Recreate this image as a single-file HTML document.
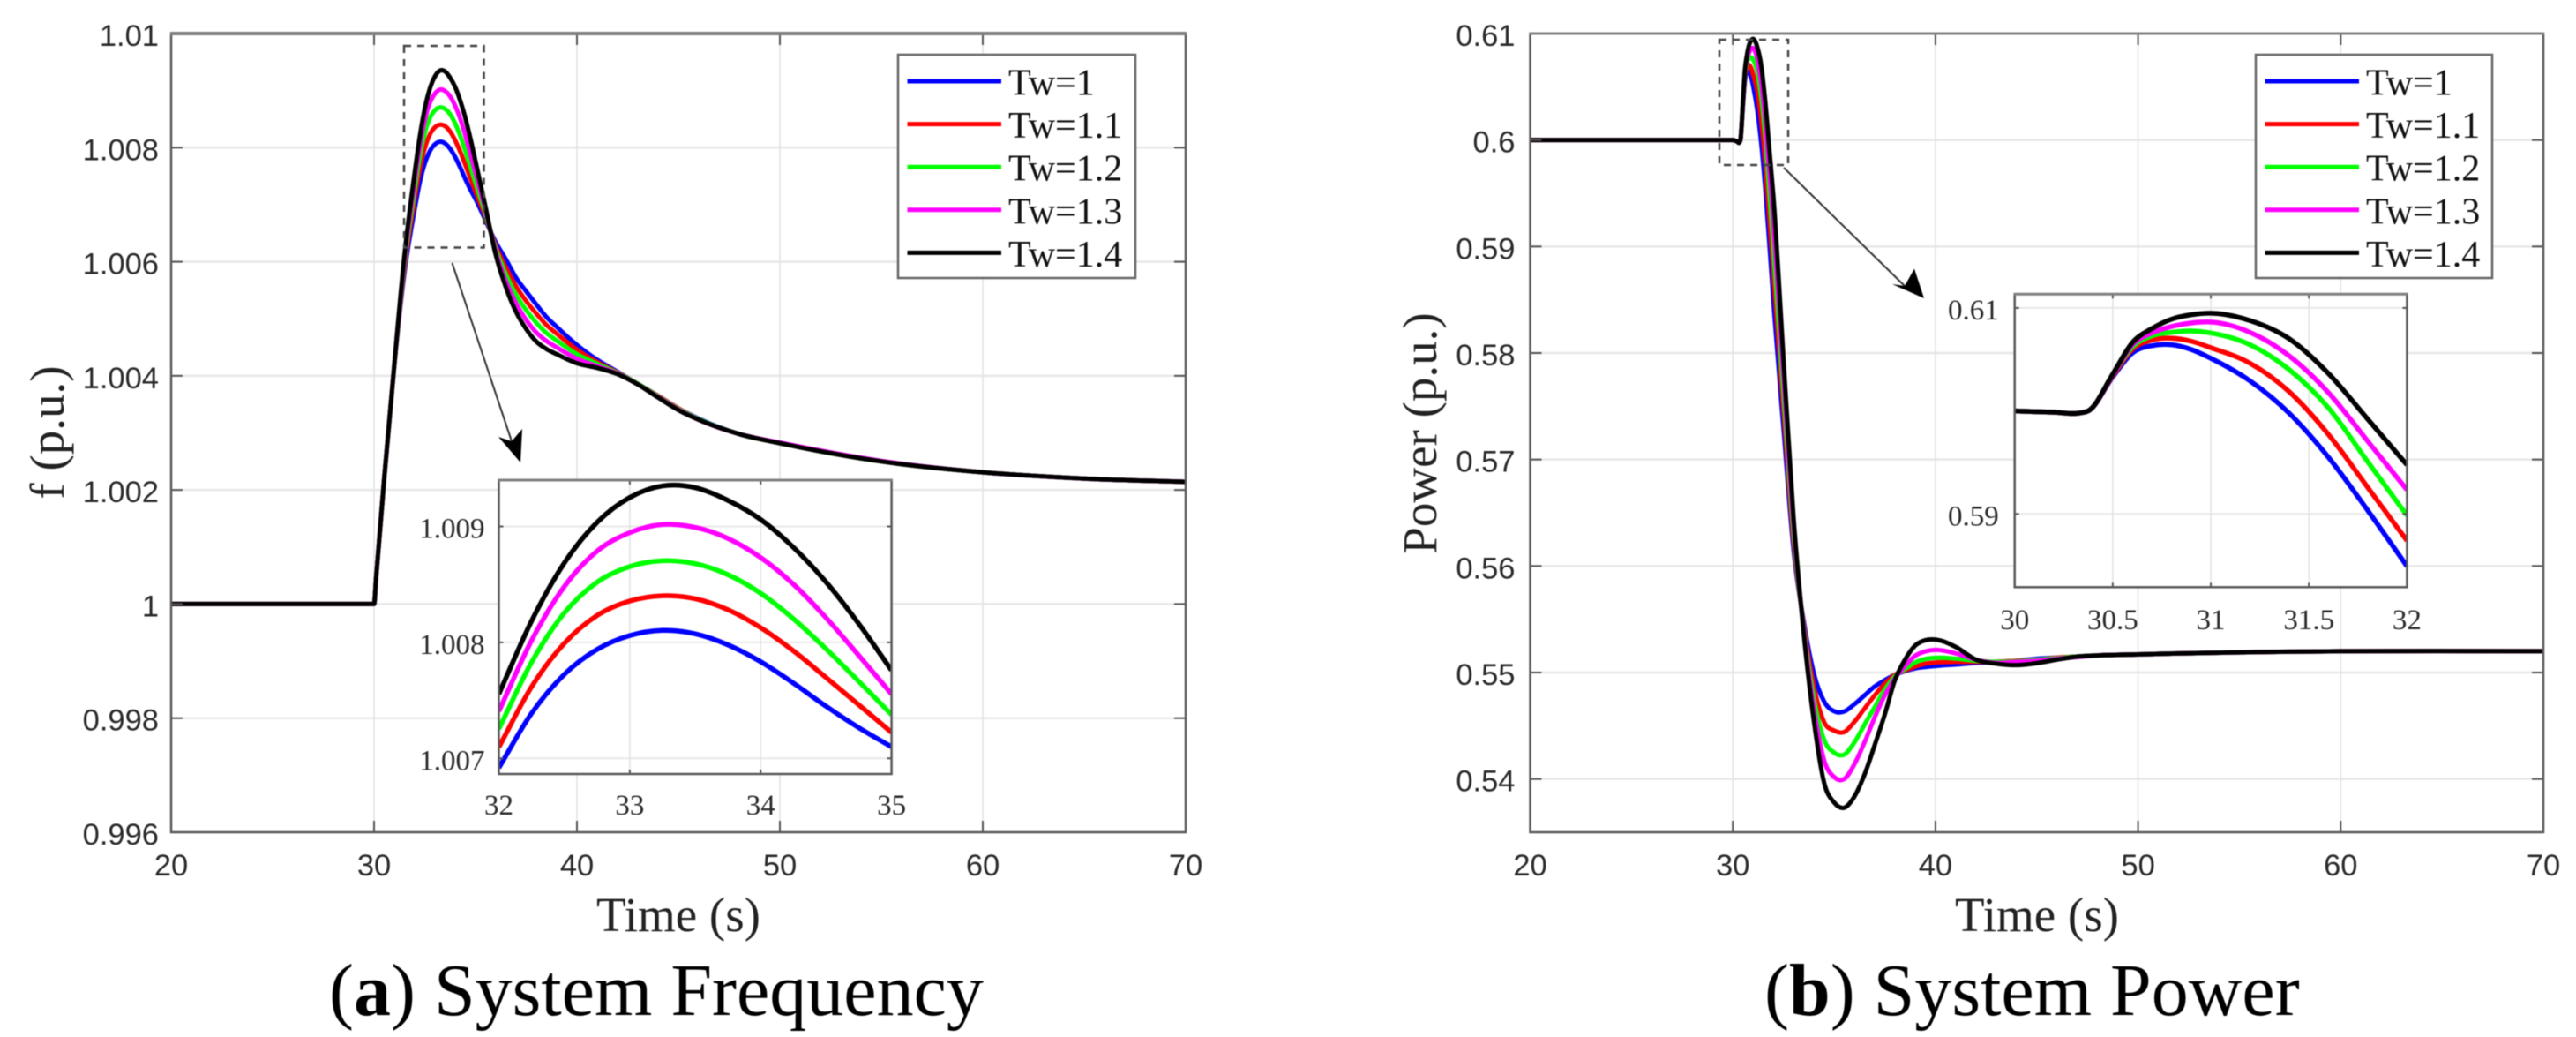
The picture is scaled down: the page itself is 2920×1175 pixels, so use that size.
<!DOCTYPE html>
<html lang="en">
<head>
<meta charset="utf-8">
<title>System Frequency and System Power</title>
<style>
html,body{margin:0;padding:0;background:#fff;width:2920px;height:1175px;overflow:hidden}
svg{display:block;filter:blur(0.5px)}
</style>
</head>
<body>
<svg id="figure" xmlns="http://www.w3.org/2000/svg" width="2920" height="1175" viewBox="0 0 2920 1175">
<rect x="0" y="0" width="2920" height="1175" fill="#fff"/>
</svg>
<script>
const seriesNames = ['Tw=1', 'Tw=1.1', 'Tw=1.2', 'Tw=1.3', 'Tw=1.4'];

const freqXTicks = ['20', '30', '40', '50', '60', '70'];
const freqYTicks = ['1.01', '1.008', '1.006', '1.004', '1.002', '1', '0.998', '0.996'];
const freqInsetXTicks = ['32', '33', '34', '35'];
const freqInsetYTicks = ['1.009', '1.008', '1.007'];

const freqTime = [20,30,30.1,30.5,31,31.5,32,32.25,32.5,32.75,33,33.25,33.5,33.75,34,34.25,34.5,34.75,35,35.5,36,36.5,37,37.5,38,38.5,39,40,41,42,43,44,45,46,48,50,55,60,65,70];
const freqBlue = [1,1,1.00045,1.0022,1.0042,1.00582,1.006919,1.007389,1.007724,1.007939,1.008059,1.008104,1.008074,1.007979,1.007834,1.007649,1.007449,1.007264,1.007099,1.00672,1.00634,1.00604,1.00572,1.00548,1.00525,1.00503,1.00486,1.00454,1.00428,1.00407,1.00386,1.00365,1.00343,1.00325,1.00298,1.00282,1.0025,1.00231,1.0022,1.00214];
const freqRed = [1,1,1.00045,1.0022,1.0042,1.0059,1.007097,1.007617,1.007992,1.008232,1.008357,1.008402,1.008377,1.008282,1.008127,1.007927,1.007697,1.007462,1.007224,1.00678,1.00628,1.0059,1.00557,1.00531,1.00509,1.00489,1.00474,1.00446,1.00424,1.00406,1.00386,1.00365,1.00343,1.00324,1.00298,1.00282,1.0025,1.00231,1.0022,1.00214];
const freqGreen = [1,1,1.00045,1.0022,1.0042,1.00598,1.007254,1.007829,1.008254,1.008519,1.008654,1.008704,1.008679,1.008584,1.008424,1.008204,1.007944,1.007664,1.007377,1.00683,1.00623,1.00578,1.00542,1.00515,1.00493,1.00475,1.00462,1.00438,1.00421,1.00405,1.00386,1.00364,1.00342,1.00324,1.00298,1.00282,1.0025,1.00231,1.0022,1.00214];
const freqMagenta = [1,1,1.00045,1.0022,1.0042,1.00605,1.007407,1.008017,1.008482,1.008787,1.008947,1.009017,1.008992,1.008897,1.008732,1.008502,1.008212,1.007887,1.007555,1.00689,1.00618,1.00566,1.00527,1.00498,1.00476,1.00461,1.0045,1.0043,1.00417,1.00404,1.00385,1.00363,1.00341,1.00323,1.00298,1.00283,1.00251,1.00231,1.0022,1.00214];
const freqBlack = [1,1,1.00045,1.0022,1.0042,1.00612,1.007555,1.008185,1.008685,1.009035,1.00925,1.00935,1.009335,1.009225,1.00906,1.00882,1.00852,1.00816,1.00776,1.00695,1.00612,1.00555,1.00512,1.00482,1.0046,1.00447,1.00438,1.00422,1.00414,1.00403,1.00385,1.00362,1.0034,1.00323,1.00298,1.00282,1.0025,1.00231,1.0022,1.00214];

const powerXTicks = ['20', '30', '40', '50', '60', '70'];
const powerYTicks = ['0.61', '0.6', '0.59', '0.58', '0.57', '0.56', '0.55', '0.54'];
const powerInsetXTicks = ['30', '30.5', '31', '31.5', '32'];
const powerInsetYTicks = ['0.61', '0.59'];

const powerTime = [20,30,30.2,30.33,30.38,30.5,30.6,30.7,30.8,30.9,31,31.2,31.4,31.6,31.8,32,32.5,33,33.5,34,34.5,35,35.5,36,36.5,37,37.5,38,38.5,39,39.5,40,41,42,43,44,45,46,47,48,50,55,60,70];
const powerBlue = [0.6,0.6,0.59988,0.5998,0.60006,0.6033,0.60563,0.60634,0.60643,0.60597,0.60511,0.60291,0.59977,0.59549,0.59034,0.58492,0.573,0.5615,0.5548,0.54992,0.5473,0.54636,0.54634,0.54702,0.54785,0.54868,0.54928,0.54978,0.55014,0.55039,0.55052,0.55061,0.55075,0.5509,0.551,0.5511,0.5513,0.5514,0.5515,0.5516,0.5517,0.5519,0.552,0.552];
const powerRed = [0.6,0.6,0.59988,0.5998,0.60006,0.6034,0.60597,0.60689,0.60706,0.60677,0.60614,0.60463,0.60186,0.59771,0.59257,0.5874,0.5746,0.5622,0.5545,0.5487,0.54537,0.54455,0.54441,0.54537,0.54661,0.54785,0.54895,0.54978,0.55019,0.55055,0.55083,0.55094,0.551,0.551,0.551,0.5511,0.5512,0.5514,0.5515,0.5516,0.5517,0.5519,0.552,0.552];
const powerGreen = [0.6,0.6,0.59988,0.5998,0.60006,0.6035,0.6062,0.60729,0.60763,0.60777,0.60757,0.60643,0.604,0.60029,0.59506,0.58986,0.5762,0.563,0.5542,0.5476,0.54372,0.54248,0.54229,0.54344,0.5451,0.54675,0.5484,0.54964,0.55033,0.55094,0.55127,0.55138,0.5513,0.5511,0.551,0.55105,0.5512,0.55135,0.5515,0.5516,0.5517,0.5519,0.552,0.552];
const powerMagenta = [0.6,0.6,0.59988,0.5998,0.60006,0.6035,0.60643,0.60757,0.6082,0.60854,0.60863,0.60763,0.60534,0.60177,0.59706,0.59234,0.5779,0.5638,0.554,0.5466,0.54179,0.54019,0.54,0.54138,0.54344,0.54578,0.54785,0.54945,0.55061,0.55157,0.55198,0.55212,0.5518,0.5512,0.5509,0.551,0.5511,0.5513,0.55145,0.5516,0.5517,0.5519,0.552,0.552];
const powerBlack = [0.6,0.6,0.59988,0.5998,0.60006,0.60357,0.60663,0.608,0.60891,0.60934,0.60949,0.60877,0.607,0.60363,0.5992,0.59477,0.5795,0.5645,0.5537,0.5455,0.5397,0.5378,0.5373,0.53835,0.54041,0.54317,0.54606,0.54928,0.55121,0.55253,0.55303,0.55309,0.5524,0.55121,0.55083,0.55069,0.55088,0.55121,0.55149,0.5516,0.5517,0.5519,0.552,0.552];

const NS = 'http://www.w3.org/2000/svg';
const figure = document.getElementById('figure');
const SERIF = '"Liberation Serif", serif';
const SANS = '"Liberation Sans", sans-serif';
const palette = ['#0000ff', '#ff0000', '#00ff00', '#ff00ff', '#000000'];
let clipCounter = 0;

function make(parent, tag, attrs) {
  const el = document.createElementNS(NS, tag);
  for (const k in attrs) el.setAttribute(k, attrs[k]);
  parent.appendChild(el);
  return el;
}

function linearScale(d0, d1, r0, r1) {
  return v => r0 + (v - d0) / (d1 - d0) * (r1 - r0);
}

function smoothPath(xs, ys) {
  const n = xs.length;
  const sec = [];
  for (let i = 0; i < n - 1; i++) sec.push((ys[i + 1] - ys[i]) / ((xs[i + 1] - xs[i]) || 1e-6));
  const tan = [sec[0]];
  for (let i = 1; i < n - 1; i++) {
    const a = Math.abs(sec[i - 1]);
    const b = Math.abs(sec[i]);
    if (Math.min(a, b) < 0.02 && Math.max(a, b) > 0.3) {
      tan.push(0);
    } else {
      const h0 = xs[i] - xs[i - 1];
      const h1 = xs[i + 1] - xs[i];
      tan.push((sec[i - 1] * h1 + sec[i] * h0) / (h0 + h1));
    }
  }
  tan.push(sec[n - 2]);
  let d = 'M' + xs[0].toFixed(2) + ' ' + ys[0].toFixed(2);
  for (let i = 0; i < n - 1; i++) {
    const h = (xs[i + 1] - xs[i]) / 3;
    d += 'C' + (xs[i] + h).toFixed(2) + ' ' + (ys[i] + h * tan[i]).toFixed(2) + ' ' +
      (xs[i + 1] - h).toFixed(2) + ' ' + (ys[i + 1] - h * tan[i + 1]).toFixed(2) + ' ' +
      xs[i + 1].toFixed(2) + ' ' + ys[i + 1].toFixed(2);
  }
  return d;
}

function visibleIndices(time, domain) {
  const idx = [];
  time.forEach((t, i) => {
    const next = i < time.length - 1 ? time[i + 1] : Infinity;
    const prev = i > 0 ? time[i - 1] : -Infinity;
    if ((t >= domain[0] && t <= domain[1]) || (next > domain[0] && next <= domain[1]) || (prev >= domain[0] && prev < domain[1])) idx.push(i);
  });
  return idx;
}

function drawPanel(cfg) {
  const g = make(figure, 'g', {});
  
  

  const xOf = linearScale(cfg.xDomain[0], cfg.xDomain[1], cfg.left, cfg.right);
  const yOf = linearScale(cfg.yDomain[0], cfg.yDomain[1], cfg.bottom, cfg.top);

  const plotBg = make(g, 'rect', {x: cfg.left, y: cfg.top, width: cfg.right - cfg.left, height: cfg.bottom - cfg.top, fill: '#fff'});
  
  

  cfg.yTicks.forEach(label => {
    const py = yOf(parseFloat(label));
    const grid = make(g, 'line', {x1: cfg.left, x2: cfg.right, y1: py, y2: py, stroke: '#e8e8e8', 'stroke-width': cfg.gridY});
    
    
  });
  cfg.xTicks.forEach(label => {
    const px = xOf(parseFloat(label));
    const grid = make(g, 'line', {x1: px, x2: px, y1: cfg.top, y2: cfg.bottom, stroke: '#e2e2e2', 'stroke-width': cfg.gridX});
    
    
  });

  clipCounter += 1;
  const clipId = 'clip' + clipCounter;
  const clip = make(g, 'clipPath', {id: clipId});
  make(clip, 'rect', {x: cfg.left, y: cfg.top, width: cfg.right - cfg.left, height: cfg.bottom - cfg.top});

  const lines = make(g, 'g', {'clip-path': 'url(#' + clipId + ')'});
  
  
  const shown = visibleIndices(cfg.time, cfg.xDomain);
  cfg.series.forEach((vals, i) => {
    const xs = shown.map(k => xOf(cfg.time[k]));
    const ys = shown.map(k => yOf(vals[k]));
    const line = make(lines, 'path', {d: smoothPath(xs, ys), fill: 'none', stroke: palette[i], 'stroke-width': cfg.lineWidth, 'stroke-linejoin': 'round'});
    
    
  });

  const tick = cfg.tickLen;
  cfg.yTicks.forEach(label => {
    const py = yOf(parseFloat(label));
    const t1 = make(g, 'line', {x1: cfg.left, x2: cfg.left + tick, y1: py, y2: py, stroke: '#555', 'stroke-width': 2});
    
    
    const t2 = make(g, 'line', {x1: cfg.right, x2: cfg.right - tick, y1: py, y2: py, stroke: '#555', 'stroke-width': 2});
    
    
    const txt = make(g, 'text', {x: cfg.left - cfg.yLabelGap, y: py + cfg.yLabelDy, 'text-anchor': 'end', 'font-family': cfg.tickFont, 'font-size': cfg.tickSize, fill: '#2a2a2a'});
    txt.textContent = label;
    
    
  });
  cfg.xTicks.forEach(label => {
    const px = xOf(parseFloat(label));
    const t1 = make(g, 'line', {x1: px, x2: px, y1: cfg.bottom, y2: cfg.bottom - tick, stroke: '#555', 'stroke-width': 2});
    
    
    const t2 = make(g, 'line', {x1: px, x2: px, y1: cfg.top, y2: cfg.top + tick, stroke: '#555', 'stroke-width': 2});
    
    
    const txt = make(g, 'text', {x: px, y: cfg.xLabelY, 'text-anchor': 'middle', 'font-family': cfg.tickFont, 'font-size': cfg.tickSize, fill: '#2a2a2a'});
    txt.textContent = label;
    
    
  });

  const frame = make(g, 'rect', {x: cfg.left, y: cfg.top, width: cfg.right - cfg.left, height: cfg.bottom - cfg.top, fill: 'none', stroke: '#5a5a5a', 'stroke-width': cfg.frameWidth});
  
  
  const topEdge = make(g, 'line', {x1: cfg.left - 1, x2: cfg.right + 1, y1: cfg.top, y2: cfg.top, stroke: '#808080', 'stroke-width': cfg.topEdgeWidth});
  
  
}

function drawLegend(x, y, w, h, name) {
  const g = make(figure, 'g', {});
  
  
  const box = make(g, 'rect', {x: x, y: y, width: w, height: h, fill: '#fff', stroke: '#666', 'stroke-width': 2.5});
  
  
  seriesNames.forEach((s, i) => {
    const cy = y + 30 + i * 48.6;
    const key = make(g, 'line', {x1: x + 10.5, x2: x + 117, y1: cy, y2: cy, stroke: palette[i], 'stroke-width': 5});
    
    
    const lbl = make(g, 'text', {x: x + 125, y: cy + 15.5, 'font-family': SERIF, 'font-size': 42, fill: '#111'});
    lbl.textContent = s;
    
    
  });
}

function drawLabel(content, x, y, size, rotate, name) {
  const attrs = {x: x, y: y, 'text-anchor': 'middle', 'font-family': SERIF, 'font-size': size, fill: '#222'};
  if (rotate) attrs.transform = 'rotate(-90 ' + x + ' ' + y + ')';
  const t = make(figure, 'text', attrs);
  t.textContent = content;
  
  
}

function drawCaption(letter, rest, x, y, name) {
  const t = make(figure, 'text', {x: x, y: y, 'font-family': SERIF, 'font-size': 84, fill: '#000'});
  
  
  t.appendChild(document.createTextNode('('));
  const b = make(t, 'tspan', {'font-weight': 'bold'});
  b.textContent = letter;
  t.appendChild(document.createTextNode(')' + rest));
}

function drawDashedBox(x, y, w, h, name) {
  const r = make(figure, 'rect', {x: x, y: y, width: w, height: h, fill: 'none', stroke: '#444', 'stroke-width': 2.5, 'stroke-dasharray': '8 7'});
  
  
}

function drawArrow(x1, y1, tipX, tipY, ax, ay, nx, ny, bx, by, name) {
  const g = make(figure, 'g', {});
  
  
  const shaft = make(g, 'line', {x1: x1, y1: y1, x2: nx, y2: ny, stroke: '#333', 'stroke-width': 2});
  
  
  const head = make(g, 'polygon', {points: [tipX, tipY, ax, ay, nx, ny, bx, by].join(' '), fill: '#000'});
  
  
}

const freqSeries = [freqBlue, freqRed, freqGreen, freqMagenta, freqBlack];
const powerSeries = [powerBlue, powerRed, powerGreen, powerMagenta, powerBlack];

/* (a) System Frequency */
drawPanel({name: 'frequency-plot', left: 194, right: 1344, top: 38, bottom: 943,
  xDomain: [20, 70], yDomain: [0.996, 1.01], time: freqTime, series: freqSeries,
  xTicks: freqXTicks, yTicks: freqYTicks, lineWidth: 5, tickLen: 13,
  gridX: 1.5, gridY: 2.5, frameWidth: 2.5, topEdgeWidth: 4,
  tickFont: SANS, tickSize: 34.5, yLabelGap: 14, yLabelDy: 14, xLabelY: 992});
drawDashedBox(458, 52, 90.5, 228.5, 'frequency-zoom-region');
drawArrow(512.5, 298, 590, 524, 565, 495, 580, 500, 592, 486, 'frequency-zoom-arrow');
drawPanel({name: 'frequency-inset', left: 565.5, right: 1010.6, top: 544, bottom: 877,
  xDomain: [32, 35], yDomain: [1.006865, 1.0094], time: freqTime, series: freqSeries,
  xTicks: freqInsetXTicks, yTicks: freqInsetYTicks, lineWidth: 5.5, tickLen: 5,
  gridX: 1.5, gridY: 2, frameWidth: 2.5, topEdgeWidth: 3,
  tickFont: SERIF, tickSize: 33, yLabelGap: 16, yLabelDy: 13, xLabelY: 923});
drawLegend(1018, 62, 269, 253, 'frequency-legend');
drawLabel('f (p.u.)', 72, 490, 55, true, 'frequency-y-axis-title');
drawLabel('Time (s)', 769, 1055, 55, false, 'frequency-x-axis-title');
drawCaption('a', ' System Frequency', 373, 1150, 'frequency-caption');

/* (b) System Power */
drawPanel({name: 'power-plot', left: 1734.5, right: 2883, top: 38, bottom: 943,
  xDomain: [20, 70], yDomain: [0.535, 0.61], time: powerTime, series: powerSeries,
  xTicks: powerXTicks, yTicks: powerYTicks, lineWidth: 5, tickLen: 13,
  gridX: 1.5, gridY: 2.5, frameWidth: 2.5, topEdgeWidth: 3,
  tickFont: SANS, tickSize: 34.5, yLabelGap: 17, yLabelDy: 14, xLabelY: 992});
drawDashedBox(1949, 45, 78, 142, 'power-zoom-region');
drawArrow(2022, 190, 2181, 338, 2145, 322, 2159, 324, 2170, 304.5, 'power-zoom-arrow');
drawPanel({name: 'power-inset', left: 2283.7, right: 2728.4, top: 333.3, bottom: 665.3,
  xDomain: [30, 32], yDomain: [0.58289, 0.61134], time: powerTime, series: powerSeries,
  xTicks: powerInsetXTicks, yTicks: powerInsetYTicks, lineWidth: 5.5, tickLen: 5,
  gridX: 1.5, gridY: 2, frameWidth: 2.5, topEdgeWidth: 3,
  tickFont: SERIF, tickSize: 33, yLabelGap: 18, yLabelDy: 13, xLabelY: 713});
drawLegend(2557, 62, 268, 253, 'power-legend');
drawLabel('Power (p.u.)', 1628, 491, 55, true, 'power-y-axis-title');
drawLabel('Time (s)', 2309, 1055, 55, false, 'power-x-axis-title');
drawCaption('b', ' System Power', 2000, 1150, 'power-caption');
</script>
</body>
</html>
